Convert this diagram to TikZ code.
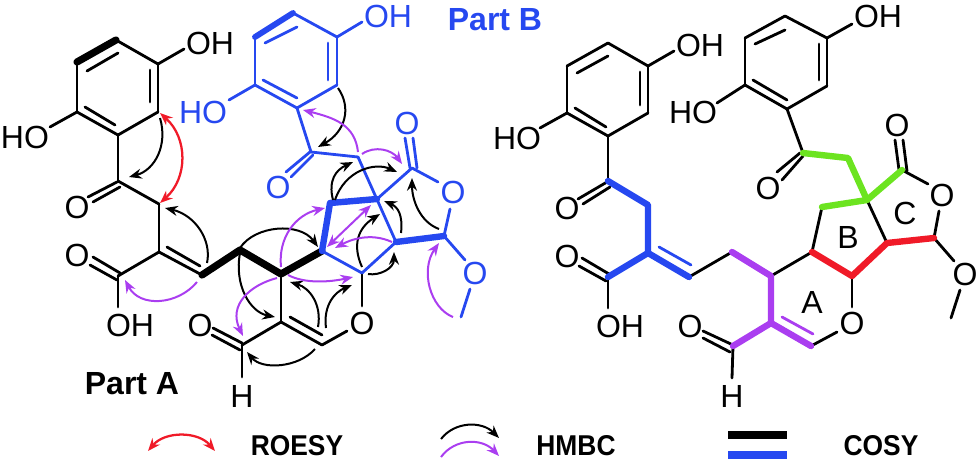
\documentclass[tikz,border=0pt]{standalone}
\usepackage{fontspec}
\setmainfont{Liberation Sans}
\usetikzlibrary{arrows.meta}
\definecolor{partblue}{RGB}{38,72,240}
\definecolor{corrpurple}{RGB}{170,62,240}
\definecolor{corrred}{RGB}{240,26,40}
\definecolor{cosygreen}{RGB}{108,228,32}
\tikzset{
  bond/.style={line width=2.1pt,line cap=round,line join=round},
  cosy/.style={line width=4.8pt,line cap=round,line join=round},
  atom/.style={inner sep=0pt,font=\fontsize{24}{26}\selectfont},
  partlabel/.style={inner sep=0pt,font=\fontsize{24}{26}\selectfont\bfseries},
  keylabel/.style={inner sep=0pt,xscale=0.92,font=\fontsize{21.5}{23}\selectfont\bfseries},
  hmbc/.style={line width=1.5pt,-{Stealth[length=9.5pt,width=7.5pt]}},
  hmbcp/.style={hmbc,color=corrpurple},
  roesy/.style={line width=1.7pt,color=corrred,{Stealth[length=9.5pt,width=7.5pt]}-{Stealth[length=9.5pt,width=7.5pt]}}
}
\begin{document}
\begin{tikzpicture}[x=0.75pt,y=-0.75pt]
  \useasboundingbox (0,0) rectangle (980,461);

  % part A, atoms
  \foreach \n/\x/\y in {p1/116/40,p2/77/62,p3/77/112,p4/118/135,p5/158/112,p6/158/64,p7/184/49,p8/50/127,
    pi1/87/71,pi2/118/53,pi3/150/70,pi4/150/102,pi5/85/107,pi6/115/125,
    c1/118/181,c2/159/204,c3/159/252,c4/202/275,c5/118/276,c6/240/250,c7/281/274,c8/322/251,
    d1/117/182,d2/88/197,d3/120/187,d4/93/202,e1/167/247,e2/200/266,
    f1/93/257,f2/120/273,f3/90/265,f4/117/280,f5/118/307,
    c9/281/322,c10/322/345,c11/347/331,c12/362/273,c13/362/306,c14/242/345,c15/242/377,
    g1/290/317,g2/322/335,h1/213/328,h2/242/343,h3/212/335,h4/240/350} {
    \coordinate (\n) at (\x,\y);
  }
  % part B, atoms
  \foreach \n/\x/\y in {b1/293/13,b2/255/37,b3/255/85,b4/297/108,b5/337/85,b6/337/37,b7/362/22,b8/229/100,
    bi1/265/43,bi2/297/27,bi3/328/43,bi4/328/80,bi5/263/80,bi6/297/98,
    b9/311/152,b10/358/157,k1/310/152,k2/286/172,k3/313/155,k4/291/177,
    m1/330/203,m2/377/199,m3/396/242,m4/444/236,m5/450/209,m6/412/168,m7/438/182,
    m8/465/260,m9/470/289,m10/461/317,n1/405/138,n2/410/168,n3/413/138,n4/417/168} {
    \coordinate (\n) at (\x,\y);
  }
  % right molecule, atoms
  \foreach \n/\x/\y in {r1/608/43,r2/567/66,r3/567/113,r4/608/136,r5/648/113,r6/648/66,r7/674/51,r8/540/128,
    ri1/577/73,ri2/608/56,ri3/640/72,ri4/640/105,ri5/575/108,ri6/606/127,
    rc1/608/181,rc2/648/205,rc3/648/253,rc4/689/277,rc5/608/277,rc6/732/252,rc7/771/276,rc8/812/252,
    rd1/607/182,rd2/578/199,rd3/610/187,rd4/583/204,re1/659/247,re2/691/265,
    rf1/582/258,rf2/609/274,rf3/579/266,rf4/606/281,rf5/608/308,
    rc9/771/323,rc10/811/346,rc11/837/332,rc12/852/276,rc13/852/307,rc14/733/346,rc15/732/378,
    rg1/782/317,rg2/813/334,rh1/703/331,rh2/733/345,rh3/703/338,rh4/730/352,
    s1/785/16,s2/745/38,s3/745/85,s4/787/109,s5/827/86,s6/827/38,s7/852/24,s8/717/103,
    si1/755/44,si2/785/30,si3/819/44,si4/819/80,si5/753/80,si6/787/100,
    s9/803/153,s10/848/158,sk1/800/153,sk2/777/172,sk3/803/156,sk4/782/180,
    t1/822/207,t2/867/200,t3/887/243,t4/934/238,t5/939/211,t6/902/170,t7/928/184,
    t8/954/261,t9/960/290,t10/951/318,u1/895/140,u2/899/170,u3/903/140,u4/907/171} {
    \coordinate (\n) at (\x,\y);
  }

  % labels
  \node[atom] (pOH) at (210,43) {OH};
  \node[atom] (pHO) at (25,137) {HO};
  \node[atom] (cO) at (77,207) {O};
  \node[atom] (fO) at (77,255) {O};
  \node[atom] (fOH) at (130,325) {OH};
  \node[atom] (ringO) at (362,323) {O};
  \node[atom] (hO) at (200,325) {O};
  \node[atom] (hH) at (242,396) {H};
  \node[atom,color=partblue] (bOH) at (388,16) {OH};
  \node[atom,color=partblue] (bHO) at (203,112) {HO};
  \node[atom,color=partblue] (kO) at (278,187) {O};
  \node[atom,color=partblue] (nO) at (407,123) {O};
  \node[atom,color=partblue] (lacO) at (453,192) {O};
  \node[atom,color=partblue] (meO) at (475,273) {O};
  \node[atom] (rOH) at (700,45) {OH};
  \node[atom] (rHO) at (517,138) {HO};
  \node[atom] (rcO) at (567,208) {O};
  \node[atom] (rfO) at (567,256) {O};
  \node[atom] (rfOH) at (620,326) {OH};
  \node[atom] (rringO) at (852,323) {O};
  \node[atom] (rhO) at (690,326) {O};
  \node[atom] (rhH) at (732,396) {H};
  \node[atom] (sOH) at (878,16) {OH};
  \node[atom] (sHO) at (693,112) {HO};
  \node[atom] (skO) at (768,188) {O};
  \node[atom] (uO) at (897,125) {O};
  \node[atom] (tO) at (942,195) {O};
  \node[atom] (tmeO) at (965,274) {O};
  \node[atom] (ringA) at (812,302) {A};
  \node[atom] (ringB) at (848,237) {B};
  \node[atom] (ringC) at (905,213) {C};
  \node[partlabel] (partA) at (132,384) {Part A};
  \node[partlabel,color=partblue] (partB) at (495,20) {Part B};

  % part A, bonds
  \foreach \a/\b in {p2/p3,p3/p4,p4/p5,p5/p6,p6/p1,p6/p7,p3/p8,pi1/pi2,pi3/pi4,pi5/pi6,
    p4/c1,d1/d2,d3/d4,c1/c2,c2/c3,c3/c4,c3/c5,e1/e2,f1/f2,f3/f4,c5/f5,
    c7/c9,c9/c10,g1/g2,c10/c11,c12/c13,c9/c14,c14/c15,h1/h2,h3/h4} {
    \draw[bond] (\a) -- (\b);
  }
  \draw[cosy,line width=5.4pt] (p2) -- (p1);
  \draw[cosy,line width=5.4pt] (c4) -- (c6) -- (c7) -- (c8);

  % part B, bonds
  \foreach \a/\b in {b2/b3,b3/b4,b4/b5,b5/b6,b6/b1,b6/b7,b3/b8,bi1/bi2,bi3/bi4,bi5/bi6,
    b4/b9,k1/k2,k3/k4,b9/b10,b10/m3,m3/c12,c8/c12,m2/m6,m6/m7,m4/m5,m4/m8,m9/m10,n1/n2,n3/n4} {
    \draw[bond,color=partblue] (\a) -- (\b);
  }
  \draw[cosy,line width=4.4pt,color=partblue] (b2) -- (b1);
  \draw[cosy,color=partblue] (c8) -- (m1) -- (m2);
  \draw[cosy,color=partblue] (m3) -- (m4);

  % right molecule, bonds
  \foreach \a/\b in {r1/r2,r2/r3,r3/r4,r4/r5,r5/r6,r6/r1,r6/r7,r3/r8,ri1/ri2,ri3/ri4,ri5/ri6,
    r4/rc1,rd1/rd2,rd3/rd4,rf1/rf2,rf3/rf4,rc5/rf5,rc4/rc6,rc7/rc8,rc8/t1,
    rc10/rc11,rc12/rc13,rc14/rc15,rh1/rh2,rh3/rh4,
    s1/s2,s2/s3,s3/s4,s4/s5,s5/s6,s6/s1,s6/s7,s3/s8,si1/si2,si3/si4,si5/si6,
    s4/s9,sk1/sk2,sk3/sk4,t2/t3,t6/t7,t4/t5,t4/t8,t9/t10,u1/u2,u3/u4} {
    \draw[bond] (\a) -- (\b);
  }
  \draw[cosy,color=partblue] (rc1) -- (rc2) -- (rc3) -- (rc4);
  \draw[cosy,color=partblue] (rc3) -- (rc5);
  \draw[bond,color=partblue] (re1) -- (re2);
  \draw[cosy,color=corrpurple] (rc6) -- (rc7) -- (rc9) -- (rc10);
  \draw[cosy,color=corrpurple] (rc9) -- (rc14);
  \draw[bond,color=corrpurple] (rg1) -- (rg2);
  \draw[cosy,color=corrred] (rc8) -- (rc12) -- (t3) -- (t4);
  \draw[cosy,color=cosygreen] (s9) -- (s10) -- (t2) -- (t1);
  \draw[cosy,color=cosygreen] (t2) -- (t6);

  % HMBC arrows, black
  \foreach \n/\ax/\ay/\bx/\by/\cx/\cy/\dx/\dy in {1/160/118/168/145/155/170/129/177,
    2/207/263/212/240/195/215/165/208,
    3/240/248/255/225/300/222/318/247,
    4/240/253/234/285/250/312/275/317,
    5/315/349/298/368/262/370/247/352,
    6/318/327/322/305/310/288/290/282,
    7/326/328/323/305/335/292/352/285,
    8/362/267/352/245/358/228/380/214,
    9/401/233/403/215/398/207/384/201,
    10/368/274/380/276/394/268/394/252,
    11/439/229/420/222/412/200/412/178,
    12/333/200/328/180/336/170/353/162,
    13/335/200/345/170/375/162/397/172,
    14/338/88/352/108/345/132/318/147} {
    \coordinate (ks\n) at (\ax,\ay);
    \coordinate (ke\n) at (\dx,\dy);
    \draw[hmbc] (ks\n) .. controls (\bx,\by) and (\cx,\cy) .. (ke\n);
  }
  % HMBC arrows, purple
  \foreach \n/\ax/\ay/\bx/\by/\cx/\cy/\dx/\dy in {1/197/282/178/305/140/308/125/280,
    2/277/278/250/285/228/305/243/336,
    3/288/275/305/284/330/282/353/277,
    4/281/267/278/238/295/215/325/208,
    5/392/242/370/232/350/240/335/248,
    6/358/152/355/125/335/118/303/110,
    7/362/154/375/145/392/150/402/164,
    8/453/317/430/308/420/270/439/243} {
    \coordinate (ls\n) at (\ax,\ay);
    \coordinate (le\n) at (\dx,\dy);
    \draw[hmbcp] (ls\n) .. controls (\bx,\by) and (\cx,\cy) .. (le\n);
  }
  \coordinate (ld1) at (327,247);
  \coordinate (ld2) at (371,205);
  \draw[hmbcp,{Stealth[length=9.5pt,width=7.5pt]}-{Stealth[length=9.5pt,width=7.5pt]}] (ld1) -- (ld2);

  % ROESY
  \coordinate (ro1) at (160,113);
  \coordinate (ro2) at (160,203);
  \draw[roesy] (ro1) .. controls (188,138) and (188,178) .. (ro2);

  % key
  \coordinate (kr1) at (148,451);
  \coordinate (kr2) at (215,451);
  \coordinate (kb1) at (441,439);
  \coordinate (kb2) at (499,438);
  \coordinate (kp1) at (441,457);
  \coordinate (kp2) at (499,456);
  \coordinate (kc1) at (728,435);
  \coordinate (kc2) at (787,435);
  \coordinate (kd1) at (728,454.5);
  \coordinate (kd2) at (787,454.5);
  \draw[roesy] (kr1) .. controls (165,431) and (198,431) .. (kr2);
  \draw[hmbc] (kb1) .. controls (455,421) and (482,421) .. (kb2);
  \draw[hmbcp] (kp1) .. controls (455,438) and (482,438) .. (kp2);
  \draw[line width=6pt] (kc1) -- (kc2);
  \draw[line width=6pt,color=partblue] (kd1) -- (kd2);
  \node[keylabel] (keyR) at (297,446) {ROESY};
  \node[keylabel] (keyH) at (576,446) {HMBC};
  \node[keylabel] (keyC) at (881,446) {COSY};
\end{tikzpicture}
\end{document}
